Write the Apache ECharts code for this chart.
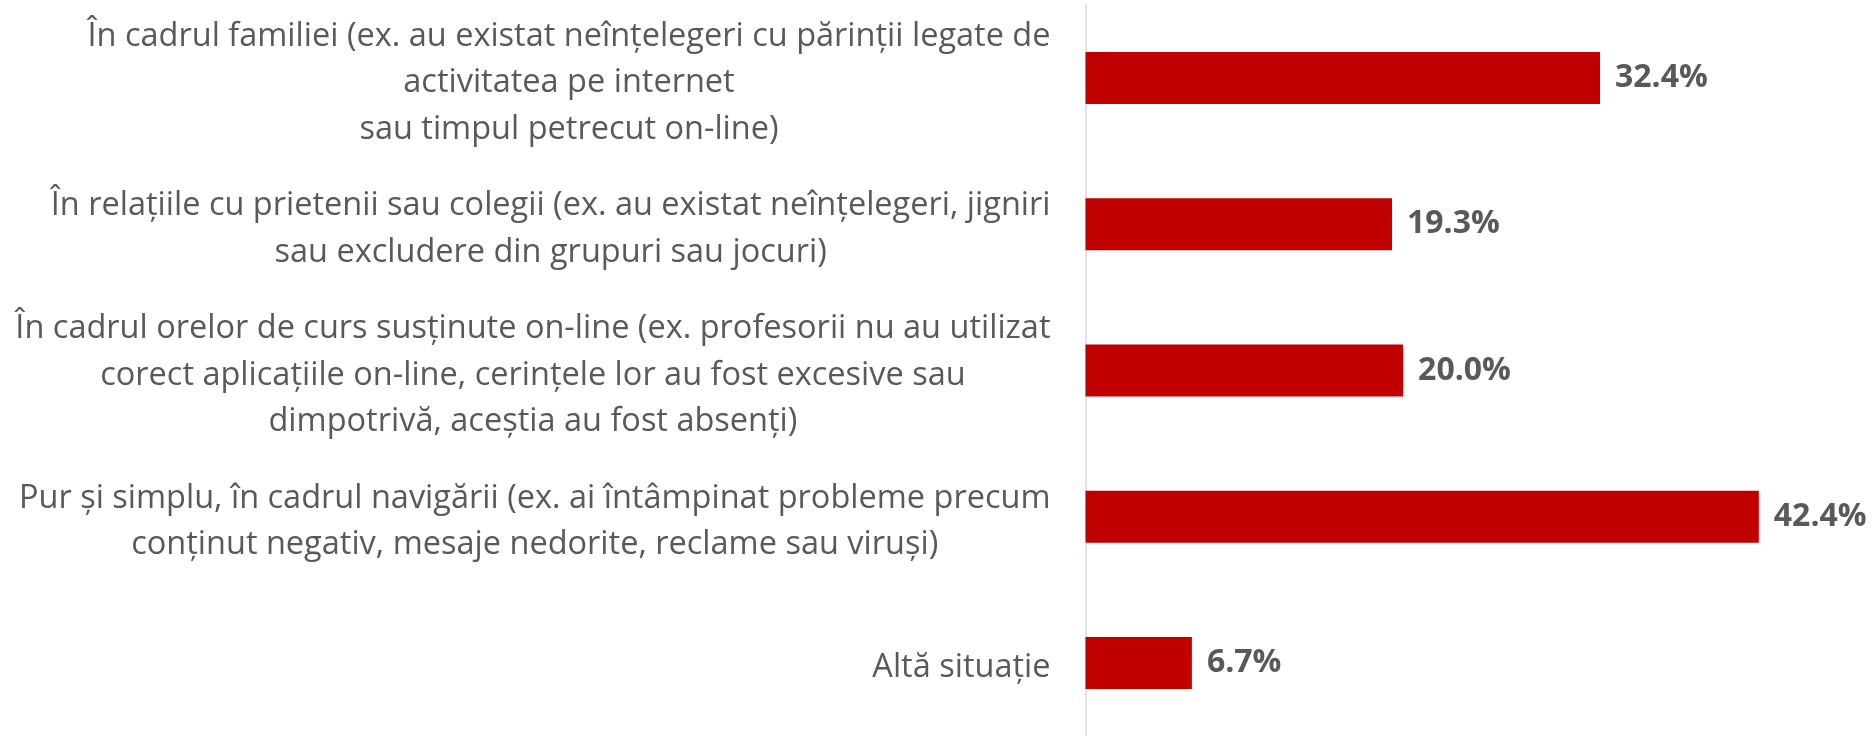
<!DOCTYPE html>
<html>
<head>
<meta charset="utf-8">
<script src="https://cdn.jsdelivr.net/npm/echarts@6/dist/echarts.min.js"></script>
<style>
  html, body { margin: 0; padding: 0; background: #fff; }
  #chart { width: 1876px; height: 736px; }
</style>
</head>
<body>
<div id="chart"></div>
<script>
// categories, top to bottom
const categories = [
  'În cadrul familiei (ex. au existat neînțelegeri cu părinții legate de\nactivitatea pe internet\nsau timpul petrecut on-line)',
  'În relațiile cu prietenii sau colegii (ex. au existat neînțelegeri, jigniri\nsau excludere din grupuri sau jocuri)',
  'În cadrul orelor de curs susținute on-line (ex. profesorii nu au utilizat\ncorect aplicațiile on-line, cerințele lor au fost excesive sau\ndimpotrivă, aceștia au fost absenți)',
  'Pur și simplu, în cadrul navigării (ex. ai întâmpinat probleme precum\nconținut negativ, mesaje nedorite, reclame sau viruși)',
  'Altă situație'
];
const values = [32.4, 19.3, 20.0, 42.4, 6.7];

const chart = echarts.init(document.getElementById('chart'));
chart.setOption({
  animation: false,
  grid: { left: 1085.5, top: 5, width: 714.6, height: 736.5, containLabel: false },
  xAxis: {
    type: 'value',
    min: 0,
    max: 45,
    show: false
  },
  yAxis: {
    type: 'category',
    inverse: true,
    data: categories,
    axisTick: { show: false },
    axisLine: { show: true, lineStyle: { color: '#d9d9d9', width: 1.5 } },
    axisLabel: {
      margin: 35,
      align: 'right',
      color: '#595959',
      fontFamily: 'Open Sans',
      fontSize: 32.5,
      lineHeight: 46.5,
      padding: [10, 0, 0, 0],
      formatter: function (v) {
        return v.split('\n').map(function (l) { return '{c|' + l + '}'; }).join('\n');
      },
      rich: {
        c: { align: 'center', color: '#595959', fontFamily: 'Open Sans', fontSize: 32.5, lineHeight: 46.5 }
      }
    }
  },
  series: [{
    type: 'bar',
    data: values,
    barWidth: 52,
    itemStyle: { color: '#c00000' },
    label: {
      show: true,
      position: 'right',
      distance: 15,
      color: '#595959',
      fontFamily: 'Open Sans',
      fontWeight: 'bold',
      fontSize: 32,
      formatter: function (p) { return p.value.toFixed(1) + '%'; }
    }
  }]
});
</script>
</body>
</html>
